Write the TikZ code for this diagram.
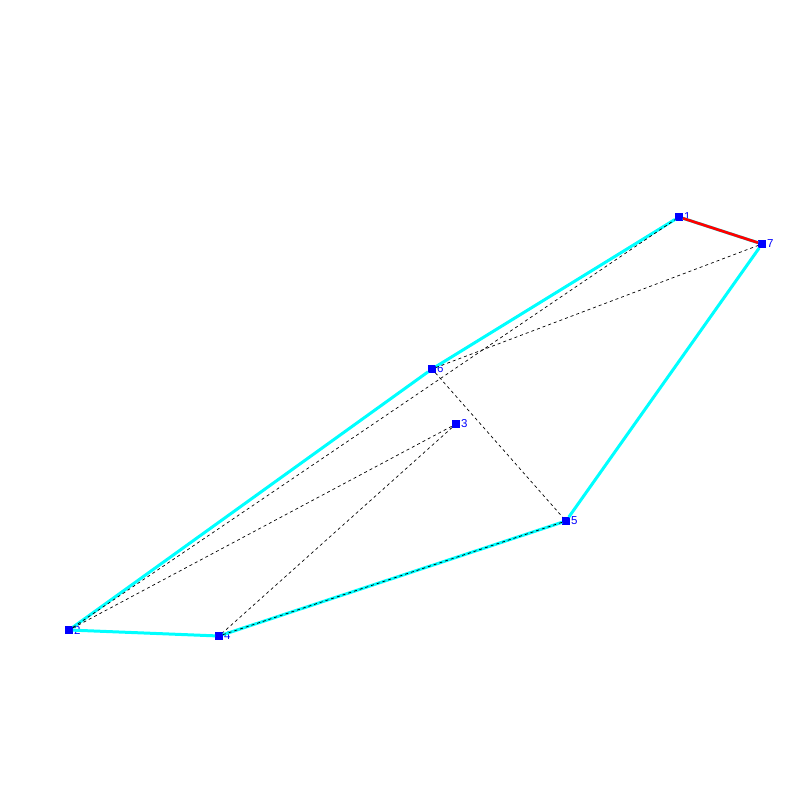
\documentclass[tikz,border=0pt]{standalone}
\usepackage{fontspec}
\setmainfont{Liberation Sans}
\definecolor{hullcyan}{RGB}{0,255,255}
\definecolor{cutred}{RGB}{255,0,0}
\definecolor{ptblue}{RGB}{0,0,255}
\begin{document}
\begin{tikzpicture}[x=1pt,y=-1pt,
    pt/.style={fill=ptblue,inner sep=0pt,minimum size=7.5pt},
    num/.style={text=ptblue,font=\fontsize{11.5}{13}\selectfont,inner sep=1pt},
    hull/.style={hullcyan,line width=3pt},
    cut/.style={cutred,line width=2.7pt},
    diag/.style={black,line width=0.7pt,dash pattern=on 3pt off 3pt}]
    \useasboundingbox (0,0) rectangle (800,800);
    \node[pt,label={[num]right:1}] (P1) at (679,217) {};
    \node[pt,label={[num]right:2}] (P2) at (69,630) {};
    \node[pt,label={[num]right:3}] (P3) at (456,424) {};
    \node[pt,label={[num]right:4}] (P4) at (219,636) {};
    \node[pt,label={[num]right:5}] (P5) at (566,521) {};
    \node[pt,label={[num]right:6}] (P6) at (432,369) {};
    \node[pt,label={[num]right:7}] (P7) at (762,244) {};
    \draw[hull] (P1) edge (P6);
    \draw[hull] (P6) edge (P2);
    \draw[hull] (P2) edge (P4);
    \draw[hull] (P4) edge (P5);
    \draw[hull] (P5) edge (P7);
    \draw[hull] (P7) edge (P1);
    \draw[diag] (P2) edge (P1);
    \draw[diag] (P6) edge (P7);
    \draw[diag] (P6) edge (P5);
    \draw[diag] (P2) edge (P3);
    \draw[diag] (P3) edge (P4);
    \draw[diag] (P4) edge (P5);
    \draw[cut] (P1) edge (P7);
\end{tikzpicture}
\end{document}
